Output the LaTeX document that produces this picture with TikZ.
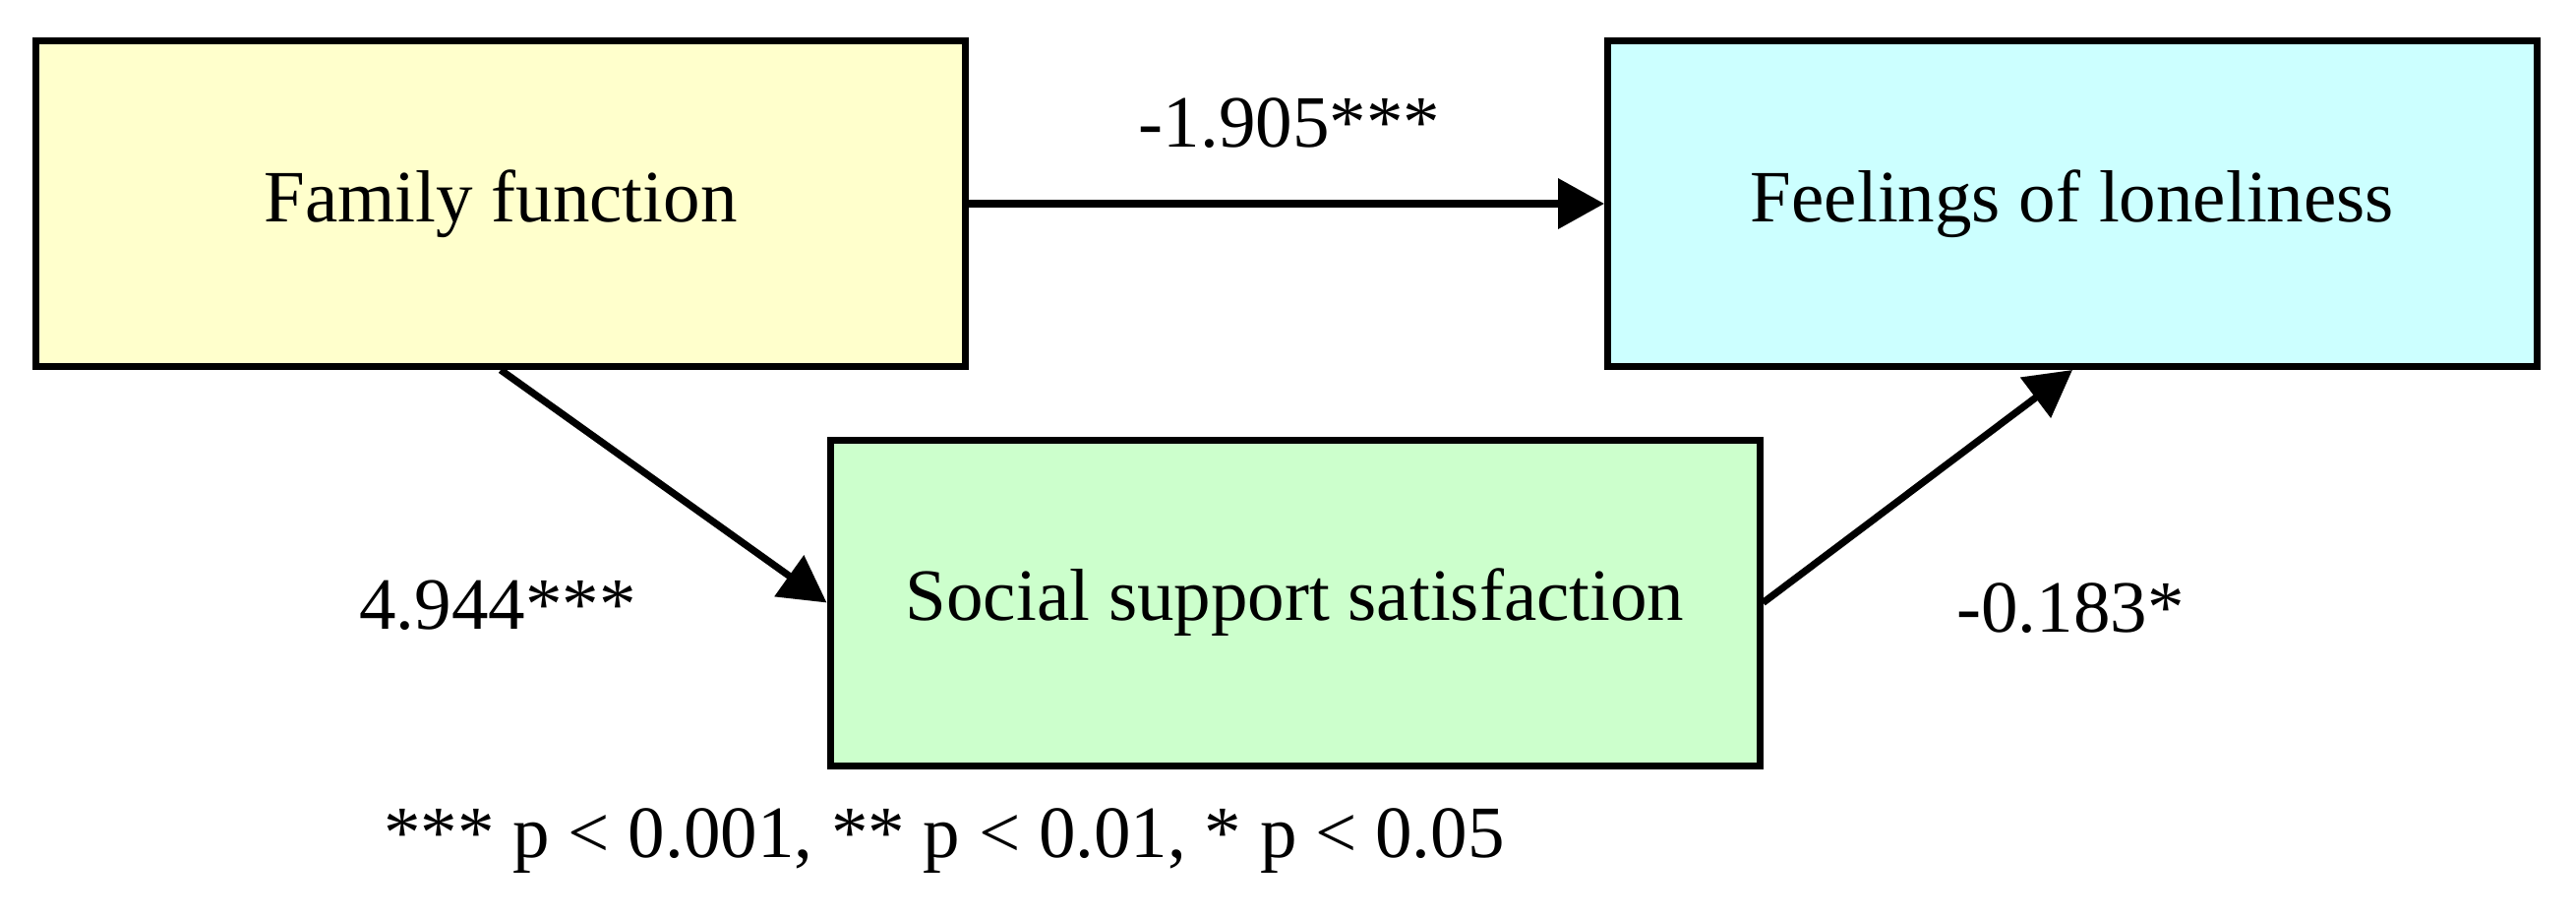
\documentclass[tikz,border=0pt]{standalone}
\usepackage{fontspec}
\setmainfont{Liberation Serif}
\usetikzlibrary{arrows.meta}
\definecolor{boxyellow}{HTML}{FFFFCC}
\definecolor{boxcyan}{HTML}{CCFFFF}
\definecolor{boxgreen}{HTML}{CCFFCC}
\begin{document}
\begin{tikzpicture}[x=0.25pt,y=-0.25pt,
  varbox/.style={draw=black, line width=1.75pt, minimum width=236.25pt, minimum height=82.75pt, inner sep=0pt, font=\fontsize{18.75}{22}\selectfont},
  pathline/.style={line width=1.8pt, -{Triangle[length=11.75pt,width=12.5pt]}},
  coef/.style={font=\fontsize{18.75}{22}\selectfont, inner sep=0pt}]
\useasboundingbox (0,0) rectangle (2619,933);
\node[varbox, fill=boxyellow] (ff) at (509,207) {Family function};
\node[varbox, fill=boxcyan] (fl) at (2107,207) {Feelings of loneliness};
\node[varbox, fill=boxgreen] (ss) at (1316.5,612.5) {Social support satisfaction};
\draw[pathline] (ff.east) -- (fl.west);
\draw[pathline] (ff.south) -- (ss.west);
\draw[pathline] (ss.east) -- (fl.south);
\node[coef] (c1) at (1311,125) {-1.905***};
\node[coef] (c2) at (506,615) {4.944***};
\node[coef] (c3) at (2105,618) {-0.183*};
\node[coef] (note) at (960,855) {*** p < 0.001, ** p < 0.01, * p < 0.05};
\end{tikzpicture}
\end{document}
